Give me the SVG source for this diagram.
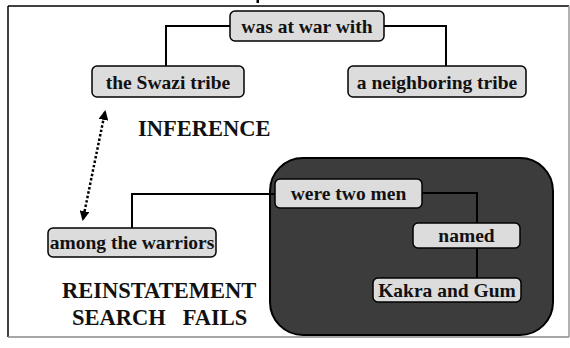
<svg xmlns="http://www.w3.org/2000/svg" width="570" height="348" viewBox="0 0 570 348">
<style>
.box{fill:#dcdcdc;stroke:#000;stroke-width:1.5}
.lbl{font-family:"Liberation Serif","Times New Roman",serif;font-weight:bold;font-size:19.5px;fill:#111;text-anchor:middle}
.big{font-family:"Liberation Serif","Times New Roman",serif;font-weight:bold;font-size:22.5px;fill:#111;white-space:pre}
.conn{fill:none;stroke:#000;stroke-width:2}
</style>
<defs>
<marker id="ah" viewBox="0 0 10 10" refX="8" refY="5" markerWidth="4" markerHeight="4" orient="auto-start-reverse" markerUnits="strokeWidth">
<path d="M0,0 L10,5 L0,10 z" fill="#000"/>
</marker>
</defs>
<rect x="0" y="0" width="570" height="348" fill="#fff"/>
<rect x="256.5" y="0" width="2.5" height="3" fill="#000"/>
<g id="frame">
<line x1="8" y1="6" x2="569" y2="6" stroke="#000" stroke-width="1.5"/>
<line x1="8" y1="6" x2="8" y2="337" stroke="#000" stroke-width="1.5"/>
<line x1="569" y1="6" x2="569" y2="337" stroke="#999" stroke-width="1.5"/>
<line x1="8" y1="337" x2="569" y2="337" stroke="#888" stroke-width="1.5"/>
</g>
<g id="region">
<rect x="270" y="158" width="283" height="177" rx="33" ry="33" fill="#3c3c3c" stroke="#000" stroke-width="2"/>
</g>
<g id="connectors">
<polyline class="conn" points="230,26 166,26 166,66"/>
<polyline class="conn" points="384,26 446,26 446,66"/>
<polyline class="conn" points="132,228 132,194 275,194"/>
<polyline class="conn" points="422,193 477,193 477,223"/>
<line class="conn" x1="477" y1="248" x2="477" y2="278"/>
<line x1="105" y1="112" x2="83" y2="219" stroke="#000" stroke-width="2.5" stroke-dasharray="2.5,2" marker-start="url(#ah)" marker-end="url(#ah)"/>
</g>
<g id="n-war">
<rect class="box" x="230" y="11" width="154" height="30" rx="5"/>
<text class="lbl" x="307" y="33">was at war with</text>
</g>
<g id="n-swazi">
<rect class="box" x="92" y="66" width="152" height="31" rx="5"/>
<text class="lbl" x="168" y="89">the Swazi tribe</text>
</g>
<g id="n-neighbor">
<rect class="box" x="348" y="66" width="178" height="31" rx="5"/>
<text class="lbl" x="437" y="89">a neighboring tribe</text>
</g>
<g id="n-among">
<rect class="box" x="48" y="228" width="168" height="29" rx="5"/>
<text class="lbl" x="132" y="249">among the warriors</text>
</g>
<g id="n-men">
<rect class="box" x="275" y="179" width="147" height="29" rx="5"/>
<text class="lbl" x="348.5" y="200">were two men</text>
</g>
<g id="n-named">
<rect class="box" x="413" y="223" width="107" height="25" rx="5"/>
<text class="lbl" x="466.5" y="242">named</text>
</g>
<g id="n-kakra">
<rect class="box" x="373" y="278" width="148" height="24" rx="5"/>
<text class="lbl" x="447" y="297">Kakra and Gum</text>
</g>
<g id="labels">
<text class="big" x="138" y="136">INFERENCE</text>
<text class="big" x="62" y="298">REINSTATEMENT</text>
<text class="big" x="72" y="325">SEARCH   FAILS</text>
</g>
</svg>
